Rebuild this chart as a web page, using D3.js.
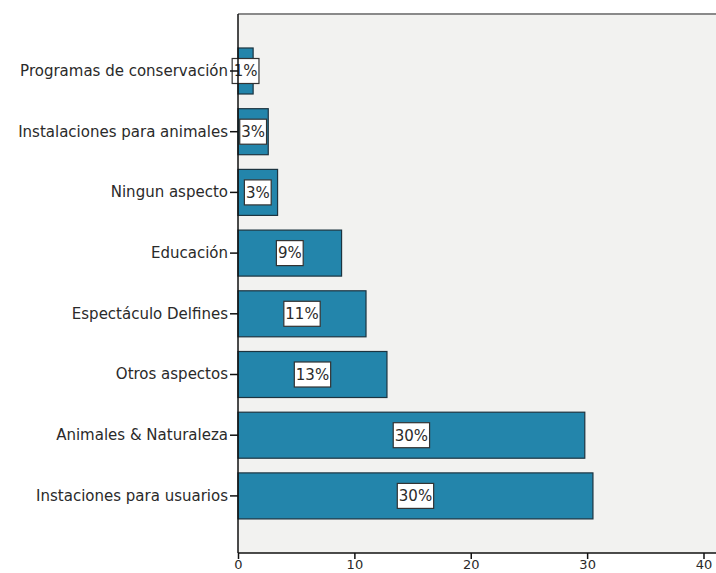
<!DOCTYPE html>
<html>
<head>
<meta charset="utf-8">
<script src="https://cdn.jsdelivr.net/npm/d3@7"></script>
<style>
html,body{margin:0;padding:0;background:#fff;}
svg{display:block;}
</style>
</head>
<body>
<svg id="chart" width="716" height="573"></svg>
<script>
const categories = ["Programas de conservación","Instalaciones para animales","Ningun aspecto","Educación","Espectáculo Delfines","Otros aspectos","Animales & Naturaleza","Instaciones para usuarios"];
const values = [1.3, 2.6, 3.4, 8.9, 11.0, 12.8, 29.8, 30.5];
const labels = ["1%","3%","3%","9%","11%","13%","30%","30%"];
const xTicks = [0,10,20,30,40];

(function(){
const svg = d3.select("#chart");
const pL = 238, pT = 14, pB = 553, pR = 760;
const font = "DejaVu Sans, sans-serif";

const x = d3.scaleLinear().domain([0,40]).range([pL, pL + 465.5]);
const y = d3.scaleBand().domain(categories).range([33.3, 533.6]).paddingInner(0.242).paddingOuter(0.242);

svg.append("rect").attr("x", pL).attr("y", pT).attr("width", pR-pL).attr("height", pB-pT).attr("fill", "#f2f2f0");
svg.append("line").attr("x1", pL).attr("x2", pR).attr("y1", pT).attr("y2", pT).attr("stroke", "#8a8a8a").attr("stroke-width", 2);

svg.selectAll("rect.bar").data(categories).enter().append("rect")
  .attr("class","bar")
  .attr("x", x(0))
  .attr("y", d => y(d))
  .attr("width", (d,i) => x(values[i]) - x(0))
  .attr("height", y.bandwidth())
  .attr("fill", "#2385ab")
  .attr("stroke", "#1c3440")
  .attr("stroke-width", 1.2);

const lg = svg.selectAll("g.lab").data(categories).enter().append("g").attr("class","lab");
lg.each(function(d,i){
  const g = d3.select(this);
  const cx = (x(0) + x(values[i]))/2;
  const cy = y(d) + y.bandwidth()/2;
  const t = g.append("text").attr("x", cx).attr("y", cy).attr("dy","0.36em")
    .attr("text-anchor","middle").attr("font-family", font).attr("font-size", 15).attr("fill","#2a2a2a")
    .text(labels[i]);
  const bb = t.node().getBBox();
  g.insert("rect","text").attr("x", bb.x-1.5).attr("y", cy-12.5).attr("width", bb.width+3).attr("height", 25)
    .attr("fill","#fff").attr("stroke","#333").attr("stroke-width",1.2);
});

const yAxis = svg.append("g").attr("transform", `translate(${pL},0)`)
  .call(d3.axisLeft(y).tickSize(8).tickPadding(2));
yAxis.select(".domain").attr("stroke","#111").attr("stroke-width",1.5).attr("d", `M0,${pT}V${pB}`);
yAxis.selectAll(".tick line").attr("stroke","#111").attr("stroke-width",1.5);
yAxis.selectAll(".tick text").attr("font-family", font).attr("font-size", 15).attr("fill","#2a2a2a");

const xAxis = svg.append("g").attr("transform", `translate(0,${pB})`)
  .call(d3.axisBottom(x).tickValues(xTicks).tickSize(6).tickPadding(1));
xAxis.select(".domain").attr("stroke","#111").attr("stroke-width",1.5).attr("d", `M${pL},0H${pR}`);
xAxis.selectAll(".tick line").attr("stroke","#111").attr("stroke-width",1.5);
xAxis.selectAll(".tick text").attr("font-family", font).attr("font-size", 13).attr("fill","#2a2a2a");
})();
</script>
</body>
</html>
